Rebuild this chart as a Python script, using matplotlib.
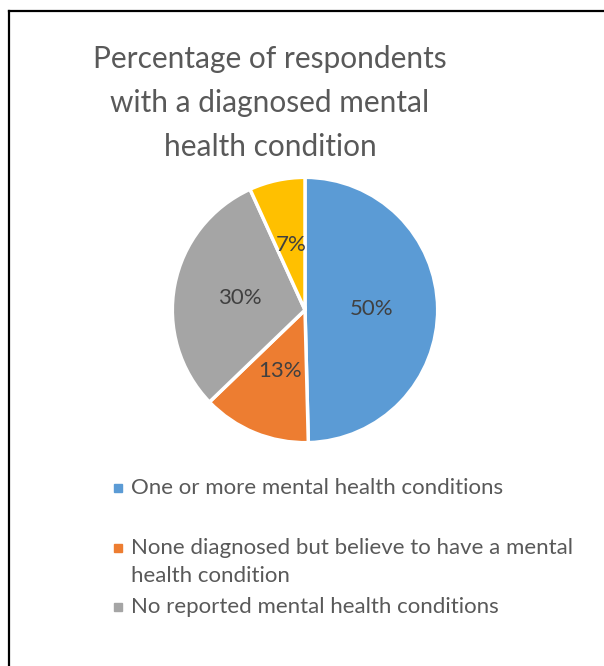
import matplotlib.pyplot as plt
from matplotlib.lines import Line2D
from matplotlib.patches import Rectangle

# Shares (clockwise from 12 o'clock)
values = [49.6, 13.2, 30.4, 6.8]
colors = ["#5B9BD5", "#ED7D31", "#A5A5A5", "#FFC000"]
# Only three entries fit in the legend box of the original
legend_labels = [
    "One or more mental health conditions",
    "None diagnosed but believe to have a mental\nhealth condition",
    "No reported mental health conditions",
]
title = "Percentage of respondents\nwith a diagnosed mental\nhealth condition"

plt.rcParams["font.family"] = ["Lato", "DejaVu Sans"]

W, H = 604, 666
fig = plt.figure(figsize=(W / 100, H / 100), dpi=100)

# chart border (left and top edges visible)
fig.add_artist(Line2D([9 / W, 9 / W], [0, 1 - 11 / H], color="black", lw=1.6, transform=fig.transFigure))
fig.add_artist(Line2D([9 / W, 1], [1 - 11 / H, 1 - 11 / H], color="black", lw=1.6, transform=fig.transFigure))

fig.text(270 / W, 1 - 103 / H, title, ha="center", va="center", fontsize=21.5,
         color="#595959", linespacing=1.7)

# pie: center (305, 310) px, radius 134 px
cx, cy, r = 305, 310, 134
ax = fig.add_axes([(cx - r) / W, (H - cy - r) / H, 2 * r / W, 2 * r / H])
wedges, _, autotexts = ax.pie(values, colors=colors, startangle=90, counterclock=False,
                              autopct="%.0f%%", pctdistance=0.5,
                              wedgeprops=dict(edgecolor="white", linewidth=2.5),
                              textprops=dict(fontsize=16, color="#404040"))
ax.set_xlim(-1.01, 1.01)
ax.set_ylim(-1.01, 1.01)
ax.set_aspect("equal")
ax.axis("off")

# legend, drawn manually to follow the uneven Excel spacing
leg_y = [488, 548, 607]
line_h = 28
for y, lab, c in zip(leg_y, legend_labels, colors):
    fig.add_artist(Rectangle((114 / W, 1 - (y + 4) / H), 8 / W, 8 / H, color=c,
                             transform=fig.transFigure))
    for i, part in enumerate(lab.split("\n")):
        fig.text(131 / W, 1 - (y + i * line_h) / H, part, ha="left", va="center",
                 fontsize=16, color="#595959")

fig.savefig("out.png", dpi=100)
